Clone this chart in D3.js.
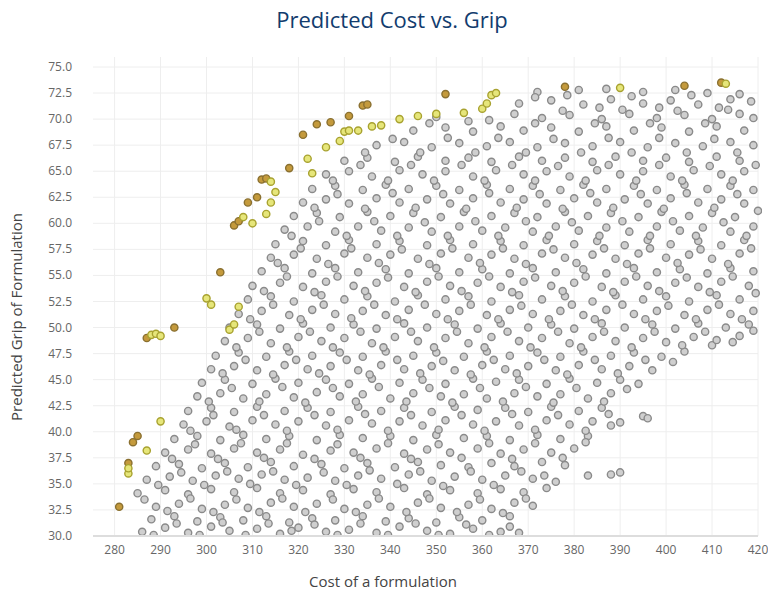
<!DOCTYPE html>
<html>
<head>
<meta charset="utf-8">
<script src="https://cdn.jsdelivr.net/npm/d3@7"></script>
<style>
  body { margin: 0; background: #fff; }
  text { font-family: "Open Sans", sans-serif; }
</style>
</head>
<body>
<div id="chart"></div>
<script>
const xTicks = [280, 290, 300, 310, 320, 330, 340, 350, 360, 370, 380, 390, 400, 410, 420];
const yTicks = [30, 32.5, 35, 37.5, 40, 42.5, 45, 47.5, 50, 52.5, 55, 57.5, 60, 62.5, 65, 67.5, 70, 72.5, 75];

// frontier points, darker olive
const olivePts = [
  [281, 32.8], [283, 37], [284, 39], [285, 39.6], [287, 49], [293, 50], [303, 55.3], [306, 59.8],
  [307, 60.2], [309, 62], [311, 62.5], [312, 64.2], [313, 64.3], [318, 65.3], [321, 68.5], [324, 69.5],
  [327, 69.7], [331, 70.3], [334, 71.3], [335, 71.4], [352, 72.4], [378, 73.1], [404, 73.2], [412, 73.5]
];
// frontier points, yellow-green
const yellowPts = [
  [283, 36], [283, 36.5], [288, 49.3], [289, 49.4], [290, 49.2], [287, 38.2], [290, 41], [300, 52.8],
  [301, 52.2], [305, 49.8], [306, 50.3], [307, 52], [308, 60.6], [310, 60], [313, 60.9], [314, 64],
  [315, 63], [314, 62], [322, 66.2], [323, 64.8], [326, 67.3], [329, 67.9], [330, 68.8], [331, 68.9],
  [333, 68.9], [336, 69.3], [338, 69.4], [342, 70], [346, 70.3], [350, 70.5], [356, 70.6], [360, 71],
  [361, 71.5], [362, 72.3], [363, 72.5], [390, 73], [413, 73.4]
];
// candidate formulations (cost, grip)
const grayPts = [
  [286,30.4],[291,30.8],[296,30.3],[301,30.9],[305,30.5],[311,30.7],[316,30.2],[320,30.8],[326,30.4],[331,30.6],[337,30.3],[342,30.9],[348,30.5],[353,30.2],[358,30.7],[364,30.4],[368,30.3],
  [288,31.6],[293,31.9],[298,31.4],[303,31.8],[308,31.5],[313,31.9],[318,31.3],[323,31.7],[328,31.5],[334,31.9],[339,31.4],[344,31.7],[350,31.3],[355,31.8],[360,31.5],[366,31.9],
  [289,32.8],[294,33.1],[299,32.6],[304,33],[309,32.7],[314,33.2],[319,32.8],[324,33.1],[330,32.6],[335,33],[340,32.8],[346,33.2],[351,32.7],[357,33],[362,32.6],[367,33.2],[371,32.9],
  [285,34.1],[291,34.4],[296,34],[301,34.5],[306,34.2],[311,34.6],[316,34.1],[321,34.4],[327,34],[332,34.5],[337,34.2],[343,34.6],[348,34],[353,34.4],[359,34.1],[364,34.5],[369,34.2],[374,34.6],[383,35.8],[388,35.9],[390,36.1],
  [287,35.4],[292,35.7],[297,35.3],[302,35.8],[307,35.5],[312,35.9],[317,35.4],[322,35.6],[328,35.3],[333,35.8],[338,35.5],[344,35.9],[349,35.3],[354,35.7],[360,35.4],[365,35.8],[371,35.5],[376,35.2],
  [289,36.7],[294,36.9],[299,36.5],[304,37],[309,36.6],[314,37.1],[319,36.7],[325,36.9],[330,36.5],[335,37],[341,36.6],[346,37.1],[351,36.8],[357,36.6],[362,37],[367,36.7],[373,37.1],[378,36.8],
  [291,38],[296,38.3],[301,37.9],[306,38.4],[311,38],[316,38.3],[321,37.8],[327,38.2],[332,38],[337,38.4],[343,37.9],[348,38.3],[353,38],[359,38.4],[364,37.9],[369,38.3],[375,38],[380,38.4],
  [293,39.3],[298,39.6],[303,39.2],[308,39.7],[313,39.3],[318,39.6],[324,39.2],[329,39.7],[334,39.4],[340,39.6],[345,39.2],[350,39.7],[356,39.4],[361,39.6],[366,39.2],[372,39.7],[377,39.3],[383,39.6],[388,40.6],[390,40.9],
  [295,40.7],[300,41],[305,40.5],[310,41.1],[315,40.7],[320,41],[326,40.6],[331,41.1],[336,40.8],[342,41],[347,40.6],[352,41.1],[358,40.7],[363,41],[368,40.6],[374,41.1],[379,40.7],[384,41],[395,41.5],[396,41.3],
  [296,42],[301,42.3],[306,41.9],[311,42.4],[317,42],[322,42.3],[327,41.9],[333,42.4],[338,42],[343,42.3],[349,41.9],[354,42.4],[359,42.1],[365,42.3],[370,41.9],[375,42.4],[381,42],[386,42.3],
  [298,43.4],[303,43.7],[308,43.2],[313,43.6],[319,43.3],[324,43.8],[329,43.4],[334,43.6],[340,43.2],[345,43.7],[351,43.4],[356,43.6],[361,43.2],[367,43.7],[372,43.4],[377,43.6],[383,43.2],[388,43.7],
  [299,44.7],[304,45],[310,44.6],[315,45.1],[320,44.7],[326,45],[331,44.6],[336,45.1],[342,44.7],[347,45],[352,44.6],[358,45.1],[363,44.8],[368,45],[374,44.6],[379,45.1],[385,44.7],[390,45],[394,44.6],
  [301,46],[306,46.3],[311,45.9],[317,46.4],[322,46],[327,46.3],[333,45.9],[338,46.4],[343,46],[349,46.3],[354,45.9],[360,46.4],[365,46],[370,46.3],[376,45.9],[381,46.4],[386,46],[392,46.3],[397,45.9],
  [302,47.3],[307,47.6],[313,47.2],[318,47.7],[323,47.3],[329,47.6],[334,47.2],[339,47.7],[345,47.3],[350,47.6],[356,47.2],[361,47.7],[366,47.3],[372,47.6],[377,47.2],[382,47.7],[388,47.3],[393,47.6],[399,47.2],[404,47.7],[410,48.3],
  [304,48.7],[309,49],[314,48.5],[320,49.1],[325,48.7],[330,49],[336,48.5],[341,49.1],[346,48.7],[352,49],[357,48.5],[362,49.1],[368,48.7],[373,49],[379,48.5],[384,49.1],[389,48.7],[395,49],[400,48.6],[406,49.1],[411,48.8],[416,49.2],
  [305,50],[311,50.3],[316,49.9],[321,50.4],[327,50],[332,50.3],[337,49.9],[343,50.4],[348,50],[354,50.3],[359,49.9],[364,50.4],[370,50],[375,50.3],[380,49.9],[386,50.4],[391,50],[397,50.3],[402,49.9],[407,50.4],[413,50],[418,50.3],
  [307,51.3],[312,51.6],[318,51.2],[323,51.7],[328,51.3],[334,51.6],[339,51.2],[344,51.7],[350,51.3],[355,51.6],[361,51.2],[366,51.7],[371,51.3],[377,51.6],[382,51.2],[387,51.7],[393,51.3],[398,51.6],[404,51.2],[409,51.7],[414,51.3],[419,51.6],
  [309,52.7],[314,53],[319,52.5],[325,53.1],[330,52.7],[335,53],[341,52.5],[346,53.1],[352,52.7],[357,53],[362,52.5],[368,53.1],[373,52.7],[378,53],[384,52.5],[389,53.1],[395,52.7],[400,53],[405,52.5],[411,53.1],[416,52.7],
  [310,54],[316,54.3],[321,53.9],[326,54.4],[332,54],[337,54.3],[343,53.9],[348,54.4],[353,54],[359,54.3],[364,53.9],[369,54.4],[375,54],[380,54.3],[386,53.9],[391,54.4],[396,54],[402,54.3],[407,53.9],[412,54.4],[418,54],
  [312,55.4],[317,55.7],[323,55.2],[328,55.7],[333,55.3],[339,55.6],[344,55.2],[350,55.7],[355,55.3],[360,55.6],[366,55.2],[371,55.7],[376,55.3],[382,55.6],[387,55.2],[393,55.7],[398,55.3],[403,55.6],[409,55.2],[414,55.7],[419,55.4],
  [314,56.7],[319,57],[324,56.6],[330,57.1],[335,56.7],[340,57],[346,56.6],[351,57.1],[357,56.7],[362,57],[367,56.6],[373,57.1],[378,56.7],[384,57],[389,56.6],[394,57.1],[400,56.7],[405,57],[410,56.6],[416,57.1],
  [315,58],[321,58.3],[326,57.9],[331,58.4],[337,58],[342,58.3],[348,57.9],[353,58.4],[358,58],[364,58.3],[369,57.9],[374,58.4],[380,58],[385,58.3],[391,57.9],[396,58.4],[401,58],[407,58.3],[412,57.9],[417,58.4],
  [317,59.4],[322,59.7],[328,59.2],[333,59.7],[338,59.3],[344,59.6],[349,59.2],[355,59.7],[360,59.3],[365,59.6],[371,59.2],[376,59.7],[381,59.3],[387,59.6],[392,59.2],[398,59.7],[403,59.3],[408,59.6],[414,59.2],[419,59.7],
  [319,60.7],[324,61],[329,60.6],[335,61.1],[340,60.7],[345,61],[351,60.6],[356,61.1],[362,60.7],[367,61],[372,60.6],[378,61.1],[383,60.7],[388,61],[394,60.6],[399,61.1],[405,60.7],[410,61],[415,60.6],[420,61.2],
  [321,62],[326,62.3],[331,61.9],[337,62.4],[342,62],[348,62.3],[353,61.9],[358,62.4],[364,62],[369,62.3],[374,61.9],[380,62.4],[385,62],[391,62.3],[396,61.9],[401,62.4],[407,62],[412,62.3],[417,61.9],
  [323,63.3],[328,63.6],[334,63.2],[339,63.7],[344,63.3],[350,63.6],[355,63.2],[361,63.7],[366,63.3],[371,63.6],[377,63.2],[382,63.7],[387,63.3],[393,63.6],[398,63.2],[404,63.7],[409,63.3],[414,63.6],[419,63.2],
  [326,64.7],[331,65],[336,64.5],[342,65.1],[347,64.7],[352,65],[358,64.5],[363,65.1],[369,64.7],[374,65],[379,64.5],[385,65.1],[390,64.7],[395,65],[401,64.5],[406,65.1],[412,64.7],[417,65],
  [330,66],[335,66.3],[341,65.9],[346,66.4],[352,66],[357,66.3],[362,65.9],[368,66.4],[373,66],[378,66.3],[384,65.9],[389,66.4],[395,66],[400,66.3],[405,65.9],[411,66.4],[416,66],
  [337,67.5],[343,67.8],[349,67.3],[355,67.7],[361,67.4],[366,67.8],[372,67.3],[378,67.7],[384,67.4],[390,67.8],[396,67.3],[402,67.7],[408,67.4],[414,67.8],[419,67.5],
  [345,68.9],[352,69.2],[358,68.8],[364,69.3],[369,68.9],[375,69.2],[381,68.8],[387,69.3],[393,68.9],[399,69.2],[405,68.8],[411,69.3],[417,68.9],
  [350,70.2],[357,69.8],[367,70.5],[373,70.1],[379,70.4],[386,70],[392,70.5],[398,70.1],[404,70.4],[410,70],[416,70.5],
  [368,71.5],[375,71.8],[382,71.4],[388,71.9],[395,71.5],[401,71.8],[407,71.4],[414,71.9],
  [372,72.6],[381,72.8],[387,72.9],[395,72.6],[402,72.8],[409,72.5],[416,72.4]
];
// second, interleaved batch of formulations
const grayPts2 = [
  [288.5,30.1],[293.5,31.2],[298.5,30.1],[303.5,31.3],[308.5,30.1],[313.5,31.2],[318.5,30.5],[323.5,31.1],[328.5,30.1],[333.5,31.2],[339.5,30.1],[345.5,31.2],[350.5,30.1],[356.5,31.1],[361.5,30.1],[366,30.9],
  [286.5,33.5],[291.5,32.4],[296.5,33.6],[301.5,32.3],[306.5,33.5],[311.5,32.3],[316.5,33.6],[321.5,32.3],[327.5,33.5],[332.5,32.3],[337.5,33.6],[343.5,32.3],[348.5,33.6],[354.5,32.3],[359.5,33.5],[364.5,32.2],[369.5,33.6],
  [289.5,34.9],[294.5,36.1],[299.5,34.9],[304.5,36.2],[309.5,35],[314.5,36.2],[319.5,34.9],[325.5,36.1],[330.5,34.9],[335.5,36.3],[341.5,35],[346.5,36.2],[351.5,34.8],[357.5,36.2],[362.5,34.9],[368.5,36.2],[373.5,35.8],
  [292.5,37.4],[297.5,38.8],[302.5,37.4],[307.5,38.9],[312.5,37.5],[317.5,38.9],[323.5,37.4],[328.5,38.8],[333.5,37.5],[339.5,38.9],[344.5,37.4],[350.5,38.8],[355.5,37.5],[361.5,38.9],[366.5,37.4],[371.5,38.9],[377.5,37.5],[382.5,39],
  [296.5,40.1],[301.5,41.6],[306.5,40.2],[312.5,41.6],[317.5,40.1],[323.5,41.6],[328.5,40.2],[334.5,41.7],[339.5,40.1],[344.5,41.6],[350.5,40.2],[355.5,41.6],[360.5,40.1],[366.5,41.7],[371.5,40.2],[376.5,41.6],[382.5,40.1],[387.5,41.7],
  [300.5,42.9],[305.5,44.2],[311.5,42.9],[316.5,44.3],[321.5,42.8],[327.5,44.2],[332.5,42.9],[337.5,44.3],[343.5,42.9],[348.5,44.2],[353.5,42.8],[359.5,44.2],[364.5,42.9],[369.5,44.3],[375.5,42.8],[380.5,44.2],[386.5,42.9],[391.5,44.1],
  [303.5,45.6],[308.5,46.9],[314.5,45.5],[319.5,46.9],[324.5,45.6],[330.5,46.9],[335.5,45.5],[341.5,46.9],[346.5,45.6],[351.5,46.8],[357.5,45.5],[362.5,46.9],[367.5,45.6],[373.5,46.9],[378.5,45.5],[384.5,46.9],[389.5,45.6],[395.5,46.9],[401.5,46.7],
  [306.5,48.1],[311.5,49.6],[317.5,48.1],[322.5,49.6],[327.5,48.1],[333.5,49.6],[338.5,48.1],[344.5,49.6],[349.5,48.1],[354.5,49.6],[360.5,48.1],[365.5,49.6],[370.5,48.1],[376.5,49.6],[381.5,48.1],[386.5,49.6],[392.5,48.1],[397.5,49.6],[403.5,48.3],[408.5,49.6],[414.5,48.6],[419,49.7],
  [309.5,50.8],[314.5,52.2],[320.5,50.8],[325.5,52.2],[331.5,50.9],[336.5,52.2],[341.5,50.8],[347.5,52.2],[352.5,50.8],[357.5,52.2],[363.5,50.8],[368.5,52.1],[374.5,50.8],[379.5,52.2],[384.5,50.8],[390.5,52.2],[395.5,50.8],[400.5,52.1],[406.5,50.8],[411.5,52.2],[416.5,50.8],
  [312.5,53.5],[317.5,54.9],[323.5,53.4],[328.5,54.9],[334.5,53.5],[339.5,54.8],[345.5,53.4],[350.5,54.9],[355.5,53.5],[361.5,54.9],[366.5,53.4],[371.5,54.8],[377.5,53.5],[382.5,54.9],[388.5,53.4],[393.5,54.9],[398.5,53.5],[404.5,54.8],[409.5,53.4],[414.5,54.9],[419.5,53.3],
  [315.5,56.2],[320.5,57.6],[326.5,56.1],[331.5,57.6],[337.5,56.2],[342.5,57.5],[348.5,56.1],[353.5,57.6],[359.5,56.2],[364.5,57.6],[369.5,56.1],[375.5,57.5],[380.5,56.2],[386.5,57.6],[391.5,56.1],[396.5,57.6],[402.5,56.2],[407.5,57.5],[413.5,56.1],[418.5,57.6],
  [318.5,58.8],[324.5,60.2],[330.5,58.8],[336.5,60.2],[341.5,58.8],[347.5,60.1],[352.5,58.8],[358.5,60.2],[363.5,58.8],[369.5,60.2],[374.5,58.8],[379.5,60.1],[385.5,58.8],[390.5,60.2],[396.5,58.8],[401.5,60.2],[406.5,58.8],[412.5,60.1],[417.5,58.8],
  [323.5,61.5],[328.5,62.8],[334.5,61.4],[340.5,62.9],[345.5,61.5],[351.5,62.8],[356.5,61.4],[361.5,62.9],[367.5,61.5],[372.5,62.8],[377.5,61.4],[383.5,62.9],[388.5,61.5],[394.5,62.8],[399.5,61.4],[404.5,62.9],[410.5,61.5],[415.5,62.8],
  [327.5,64.1],[333.5,65.6],[339.5,64.1],[344.5,65.6],[349.5,64.1],[355.5,65.6],[360.5,64.1],[366.5,65.6],[371.5,64.1],[376.5,65.5],[382.5,64.1],[387.5,65.6],[393.5,64.1],[398.5,65.6],[403.5,64.1],[409.5,65.5],[414.5,64.1],[419.5,65.6],
  [334.5,66.8],[340.5,68.1],[346.5,66.8],[352.5,68.2],[358.5,66.8],[363.5,68.2],[369.5,66.8],[375.5,68.1],[381.5,66.8],[387.5,68.2],[392.5,66.8],[398.5,68.2],[404.5,66.8],[410.5,68.1],[415.5,66.8],
  [348.5,69.6],[361.5,69.9],[371.5,69.6],[377.5,70.8],[384.5,69.6],[390.5,70.9],[396.5,69.6],[402.5,70.8],[408.5,69.6],[413.5,70.9],[419,70.1],
  [371.5,72.1],[378.5,72.3],[385.5,71.1],[392.5,72.2],[398.5,71.1],[405.5,72.3],[411.5,71.1],[418.5,71.7]
];

const W = 768, H = 593;
const margin = { top: 55, right: 10, bottom: 57, left: 93 };

const svg = d3.select("#chart").append("svg").attr("width", W).attr("height", H);

const x = d3.scaleLinear().domain([275.3, 420]).range([margin.left, 758]);
const y = d3.scaleLinear().domain([30, 75]).range([536, 67]);

// grid
svg.append("g").selectAll("line").data(xTicks).join("line")
  .attr("x1", d => x(d)).attr("x2", d => x(d)).attr("y1", y(75) - 10).attr("y2", y(30))
  .attr("stroke", "#eee");
svg.append("g").selectAll("line").data(yTicks).join("line")
  .attr("x1", margin.left).attr("x2", 758).attr("y1", d => y(d)).attr("y2", d => y(d))
  .attr("stroke", "#eee");

svg.append("g").selectAll("text").data(xTicks).join("text")
  .attr("x", d => x(d)).attr("y", 554).attr("text-anchor", "middle")
  .attr("font-size", 12).attr("fill", "#666").text(d => d);
svg.append("g").selectAll("text").data(yTicks).join("text")
  .attr("x", 72).attr("y", d => y(d) + 4).attr("text-anchor", "end")
  .attr("font-size", 12).attr("fill", "#666").text(d => d.toFixed(1));

// points, clipped to the plot area
svg.append("clipPath").attr("id", "plot").append("rect")
  .attr("x", margin.left).attr("y", 50).attr("width", 758 - margin.left + 4).attr("height", y(30) - 50);
const pts = svg.append("g").attr("clip-path", "url(#plot)");

const dot = (sel, data, fill, stroke) => sel.append("g").selectAll("circle").data(data).join("circle")
  .attr("cx", d => x(d[0])).attr("cy", d => y(d[1])).attr("r", 3.6)
  .attr("fill", fill).attr("stroke", stroke).attr("stroke-width", 1.4);

dot(pts, grayPts, "#cfcfcf", "#8a8a8a");
dot(pts, grayPts2, "#cfcfcf", "#8a8a8a");
dot(pts, olivePts, "#c49a3c", "#8a7030");
dot(pts, yellowPts, "#e6e67a", "#a8a230");

svg.append("line").attr("x1", margin.left).attr("x2", 758).attr("y1", y(30)).attr("y2", y(30))
  .attr("stroke", "#ddd").attr("stroke-width", 2);

svg.append("text").attr("x", W / 2 + 8).attr("y", 28).attr("text-anchor", "middle")
  .attr("font-size", 22).attr("fill", "#123c6e").text("Predicted Cost vs. Grip");
svg.append("text").attr("x", 383).attr("y", 587).attr("text-anchor", "middle")
  .attr("font-size", 15).attr("fill", "#444").text("Cost of a formulation");
svg.append("text").attr("transform", "translate(22,317) rotate(-90)").attr("text-anchor", "middle")
  .attr("font-size", 15).attr("fill", "#444").text("Predicted Grip of Formulation");
</script>
</body>
</html>
